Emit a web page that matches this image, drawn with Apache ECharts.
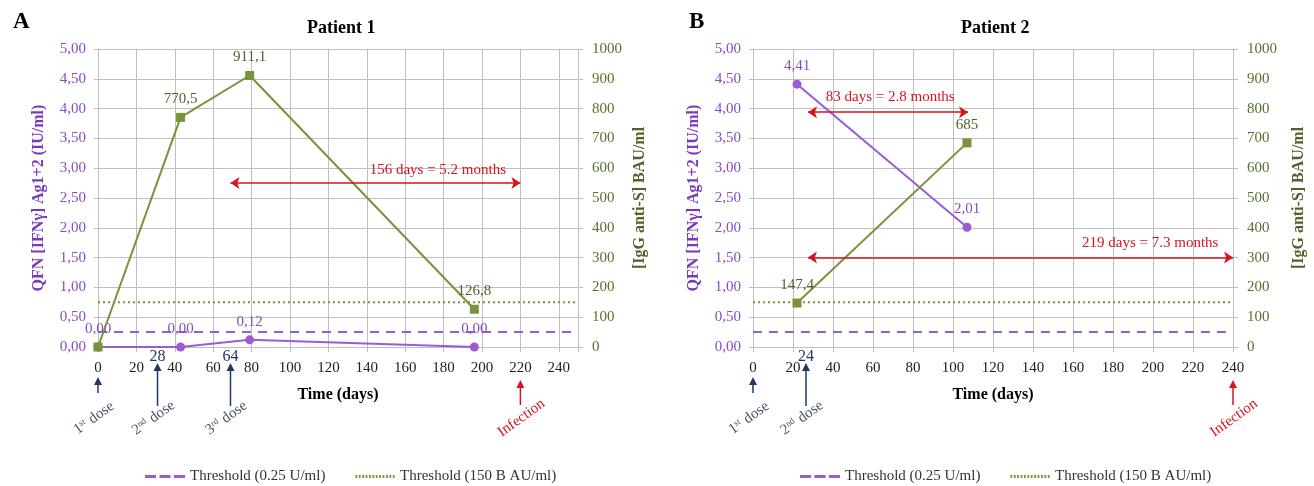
<!DOCTYPE html>
<html>
<head>
<meta charset="utf-8">
<script src="https://cdn.jsdelivr.net/npm/echarts@6/dist/echarts.min.js"></script>
<style>
html, body { margin: 0; padding: 0; background: #fff; }
#chart { width: 1314px; height: 486px; }
</style>
</head>
<body>
<div id="chart"></div>
<script>
// Patient 1
var p1Days = [0, 43, 79, 196];
var p1Qfn = [0, 0, 0.12, 0];
var p1Igg = [0, 770.5, 911.1, 126.8];
var p1DoseDays = [0, 31, 69];
var p1DoseNums = ['1', '2', '3'];
var p1DoseSups = ['st', 'nd', 'rd'];
var p1DoseMarks = ['', '28', '64'];
var p1InfectionDay = 220;
var p1Span = [69, 220];
var p1SpanY = 2.75;
var p1SpanText = '156 days = 5.2 months';
var p1SpanTextAt = [177, 2.97];

// Patient 2
var p2Days = [22, 107];
var p2Qfn = [4.41, 2.01];
var p2Igg = [147.4, 685];
var p2DoseDays = [0, 26.5];
var p2DoseNums = ['1', '2'];
var p2DoseSups = ['st', 'nd'];
var p2DoseMarks = ['', '24'];
var p2InfectionDay = 240;
var p2SpanA = [27.5, 107.5];
var p2SpanAY = 3.94;
var p2SpanAText = '83 days = 2.8 months';
var p2SpanATextAt = [68.6, 4.2];
var p2SpanB = [27.5, 240];
var p2SpanBY = 1.5;
var p2SpanBText = '219 days = 7.3 months';
var p2SpanBTextAt = [198.6, 1.74];

// thresholds
var qfnThreshold = 0.25;
var iggThreshold = 150;
var thrQfnName = 'Threshold (0.25 U/ml)';
var thrIggName = 'Threshold (150 B AU/ml)';

var font = 'Liberation Serif';
var purple = '#9B5BD4';
var purpleText = '#8A4CC6';
var purpleName = '#7B38BE';
var green = '#77933C';
var greenText = '#4F6228';
var red = '#D7141E';
var navy = '#1F3864';
var doseText = '#44546A';
var gridColor = '#BFBFBF';

function pairs(xs, ys) {
    return xs.map(function (x, i) { return [x, ys[i]]; });
}
function comma(v, d) {
    return (d == null ? String(v) : v.toFixed(d)).replace('.', ',');
}

var dashIcon = 'path://M0,0h11v3h-11zM14.5,0h11v3h-11zM29,0h11v3h-11z';
var dotIcon = 'path://';
for (var i = 0; i < 12; i++) {
    dotIcon += 'M' + (i * 3.4) + ',0h1.8v3h-1.8z';
}

function xAxisOf(grid, max) {
    return {
        type: 'value', gridIndex: grid, min: 0, max: max, interval: 20,
        name: 'Time (days)', nameLocation: 'middle', nameGap: 40,
        nameTextStyle: { fontFamily: font, fontWeight: 'bold', fontSize: 16, color: '#000' },
        axisLine: { show: true, lineStyle: { color: gridColor } },
        axisTick: { show: true, length: 5, lineStyle: { color: gridColor } },
        axisLabel: {
            fontFamily: font, fontSize: 15, color: '#222', margin: 14,
            formatter: function (v) { return v % 20 === 0 ? String(v) : ''; }
        },
        splitLine: { show: true, lineStyle: { color: gridColor } }
    };
}
function qfnAxis(grid) {
    return {
        type: 'value', gridIndex: grid, position: 'left', min: 0, max: 5, interval: 0.5,
        name: 'QFN [IFNγ] Ag1+2 (IU/ml)', nameLocation: 'middle', nameGap: 51,
        nameTextStyle: { fontFamily: font, fontWeight: 'bold', fontSize: 16, color: purpleName },
        axisLine: { show: true, lineStyle: { color: gridColor } },
        axisTick: { show: true, length: 4, lineStyle: { color: gridColor } },
        axisLabel: { fontFamily: font, fontSize: 15, color: purpleText, margin: 12,
            formatter: function (v) { return comma(v, 2); } },
        splitLine: { show: true, lineStyle: { color: gridColor } }
    };
}
function iggAxis(grid, gap) {
    return {
        type: 'value', gridIndex: grid, position: 'right', min: 0, max: 1000, interval: 100,
        name: '[IgG anti-S] BAU/ml', nameLocation: 'middle', nameGap: gap,
        nameTextStyle: { fontFamily: font, fontWeight: 'bold', fontSize: 16, color: greenText },
        axisLine: { show: true, lineStyle: { color: gridColor } },
        axisTick: { show: true, length: 5, lineStyle: { color: gridColor } },
        axisLabel: { fontFamily: font, fontSize: 15, color: '#55712F', margin: 14,
            formatter: function (v) { return String(v); } },
        splitLine: { show: false }
    };
}
function spanLine(from, to, y) {
    return {
        silent: true, symbol: ['arrow', 'arrow'], symbolSize: 9,
        label: { show: false },
        lineStyle: { color: red, width: 1.5, type: 'solid' },
        data: [[{ coord: [from, y] }, { coord: [to, y] }]]
    };
}

var labelQfn = { show: true, position: 'top', distance: 6, fontFamily: font, fontSize: 15,
    color: purpleText, formatter: function (p) { return comma(p.value[1], 2); } };
var labelIgg = { show: true, position: 'top', distance: 6, fontFamily: font, fontSize: 15,
    color: greenText, formatter: function (p) { return p.value[1] === 0 ? '' : comma(p.value[1]); } };

var option = {
    animation: false,
    backgroundColor: '#fff',
    textStyle: { fontFamily: font },
    title: [
        { text: 'A', left: 8, top: 6, textStyle: { fontFamily: font, fontSize: 23, fontWeight: 'bold', color: '#000' } },
        { text: 'Patient 1', left: 302, top: 14, textStyle: { fontFamily: font, fontSize: 18, fontWeight: 'bold', color: '#000' } },
        { text: 'B', left: 684, top: 6, textStyle: { fontFamily: font, fontSize: 23, fontWeight: 'bold', color: '#000' } },
        { text: 'Patient 2', left: 956, top: 14, textStyle: { fontFamily: font, fontSize: 18, fontWeight: 'bold', color: '#000' } }
    ],
    legend: [
        { left: 140, top: 464, itemWidth: 40, itemHeight: 3, itemGap: 30, selectedMode: false,
          textStyle: { fontFamily: font, fontSize: 15, color: '#333' },
          data: [{ name: thrQfnName, icon: dashIcon }, { name: thrIggName, icon: dotIcon }] },
        { left: 795, top: 464, itemWidth: 40, itemHeight: 3, itemGap: 30, selectedMode: false,
          textStyle: { fontFamily: font, fontSize: 15, color: '#333' },
          data: [{ name: thrQfnName, icon: dashIcon }, { name: thrIggName, icon: dotIcon }] }
    ],
    grid: [
        { left: 98, right: 736, top: 49, bottom: 139 },
        { left: 753, right: 81, top: 49, bottom: 139 }
    ],
    xAxis: [xAxisOf(0, 250), xAxisOf(1, 240)],
    yAxis: [qfnAxis(0), iggAxis(0, 54), qfnAxis(1), iggAxis(1, 58)],
    series: [
        { name: thrQfnName, type: 'line', xAxisIndex: 0, yAxisIndex: 0, symbol: 'none', silent: true, z: 1,
          data: [[0, qfnThreshold], [250, qfnThreshold]],
          itemStyle: { color: purple }, lineStyle: { color: purple, width: 2, type: [9, 7] } },
        { name: thrIggName, type: 'line', xAxisIndex: 0, yAxisIndex: 1, symbol: 'none', silent: true, z: 1,
          data: [[0, iggThreshold], [250, iggThreshold]],
          itemStyle: { color: green }, lineStyle: { color: green, width: 2, type: [2, 3] } },
        { name: 'QFN Patient 1', type: 'line', xAxisIndex: 0, yAxisIndex: 0, z: 3,
          data: pairs(p1Days, p1Qfn), symbol: 'circle', symbolSize: 9,
          itemStyle: { color: purple }, lineStyle: { color: purple, width: 2 }, label: labelQfn,
          markLine: spanLine(p1Span[0], p1Span[1], p1SpanY) },
        { name: 'IgG Patient 1', type: 'line', xAxisIndex: 0, yAxisIndex: 1, z: 4,
          data: pairs(p1Days, p1Igg), symbol: 'rect', symbolSize: 9,
          itemStyle: { color: green }, lineStyle: { color: green, width: 2 }, label: labelIgg },

        { name: thrQfnName, type: 'line', xAxisIndex: 1, yAxisIndex: 2, symbol: 'none', silent: true, z: 1,
          data: [[0, qfnThreshold], [240, qfnThreshold]],
          itemStyle: { color: purple }, lineStyle: { color: purple, width: 2, type: [9, 7] } },
        { name: thrIggName, type: 'line', xAxisIndex: 1, yAxisIndex: 3, symbol: 'none', silent: true, z: 1,
          data: [[0, iggThreshold], [240, iggThreshold]],
          itemStyle: { color: green }, lineStyle: { color: green, width: 2, type: [2, 3] } },
        { name: 'QFN Patient 2', type: 'line', xAxisIndex: 1, yAxisIndex: 2, z: 3,
          data: pairs(p2Days, p2Qfn), symbol: 'circle', symbolSize: 9,
          itemStyle: { color: purple }, lineStyle: { color: purple, width: 2 }, label: labelQfn,
          markLine: {
              silent: true, symbol: ['arrow', 'arrow'], symbolSize: 9, label: { show: false },
              lineStyle: { color: red, width: 1.5, type: 'solid' },
              data: [
                  [{ coord: [p2SpanA[0], p2SpanAY] }, { coord: [p2SpanA[1], p2SpanAY] }],
                  [{ coord: [p2SpanB[0], p2SpanBY] }, { coord: [p2SpanB[1], p2SpanBY] }]
              ]
          } },
        { name: 'IgG Patient 2', type: 'line', xAxisIndex: 1, yAxisIndex: 3, z: 4,
          data: pairs(p2Days, p2Igg), symbol: 'rect', symbolSize: 9,
          itemStyle: { color: green }, lineStyle: { color: green, width: 2 }, label: labelIgg }
    ]
};

var chart = echarts.init(document.getElementById('chart'));
chart.setOption(option);

// annotations placed through the axes
function px(grid, x, y) {
    return chart.convertToPixel({ gridIndex: grid }, [x, y]);
}
function upArrow(x, yTip, yEnd, color) {
    return [
        { type: 'line', silent: true, z: 10,
          shape: { x1: x, y1: yTip + 6, x2: x, y2: yEnd },
          style: { stroke: color, lineWidth: 1.5 } },
        { type: 'polygon', silent: true, z: 10,
          shape: { points: [[x, yTip], [x - 4, yTip + 8], [x + 4, yTip + 8]] },
          style: { fill: color } }
    ];
}
function rotatedText(x, y, text, rich, color) {
    return { type: 'text', silent: true, z: 10, x: x, y: y, rotation: 0.62,
        style: { text: text, rich: rich, align: 'center', verticalAlign: 'middle',
                 fontFamily: font, fontSize: 15, fill: color } };
}
var doseRich = {
    n: { fontFamily: font, fontSize: 15, color: doseText },
    s: { fontFamily: font, fontSize: 9, color: doseText, verticalAlign: 'top', padding: [0, 1, 6, 0] }
};

function annotate(grid, doseDays, doseNums, doseSups, doseMarks, infDay, texts) {
    var out = [];
    var y0 = px(grid, 0, 0)[1];
    doseDays.forEach(function (d, i) {
        var x = px(grid, d, 0)[0];
        if (doseMarks[i]) {
            out = out.concat(upArrow(x, y0 + 16, y0 + 59, navy));
            out.push({ type: 'text', silent: true, z: 11, x: x, y: y0 + 10,
                style: { text: doseMarks[i], align: 'center', verticalAlign: 'middle',
                         fontFamily: font, fontSize: 16, fill: navy } });
        } else {
            out = out.concat(upArrow(x, y0 + 30, y0 + 46, navy));
        }
        out.push(rotatedText(x - 4, y0 + 71,
            '{n|' + doseNums[i] + '}{s|' + doseSups[i] + '}{n| dose}', doseRich, doseText));
    });
    var xi = px(grid, infDay, 0)[0];
    out = out.concat(upArrow(xi, y0 + 33, y0 + 58, red));
    out.push(rotatedText(xi + 1, y0 + 71, 'Infection', null, red));
    texts.forEach(function (t) {
        var p = px(grid, t[0], t[1]);
        out.push({ type: 'text', silent: true, z: 11, x: p[0], y: p[1],
            style: { text: t[2], align: 'center', verticalAlign: 'middle',
                     fontFamily: font, fontSize: 15, fill: red } });
    });
    return out;
}

var graphics = annotate(0, p1DoseDays, p1DoseNums, p1DoseSups, p1DoseMarks, p1InfectionDay,
    [[p1SpanTextAt[0], p1SpanTextAt[1], p1SpanText]])
    .concat(annotate(1, p2DoseDays, p2DoseNums, p2DoseSups, p2DoseMarks, p2InfectionDay,
    [[p2SpanATextAt[0], p2SpanATextAt[1], p2SpanAText],
     [p2SpanBTextAt[0], p2SpanBTextAt[1], p2SpanBText]]));

chart.setOption({ graphic: graphics });
</script>
</body>
</html>
